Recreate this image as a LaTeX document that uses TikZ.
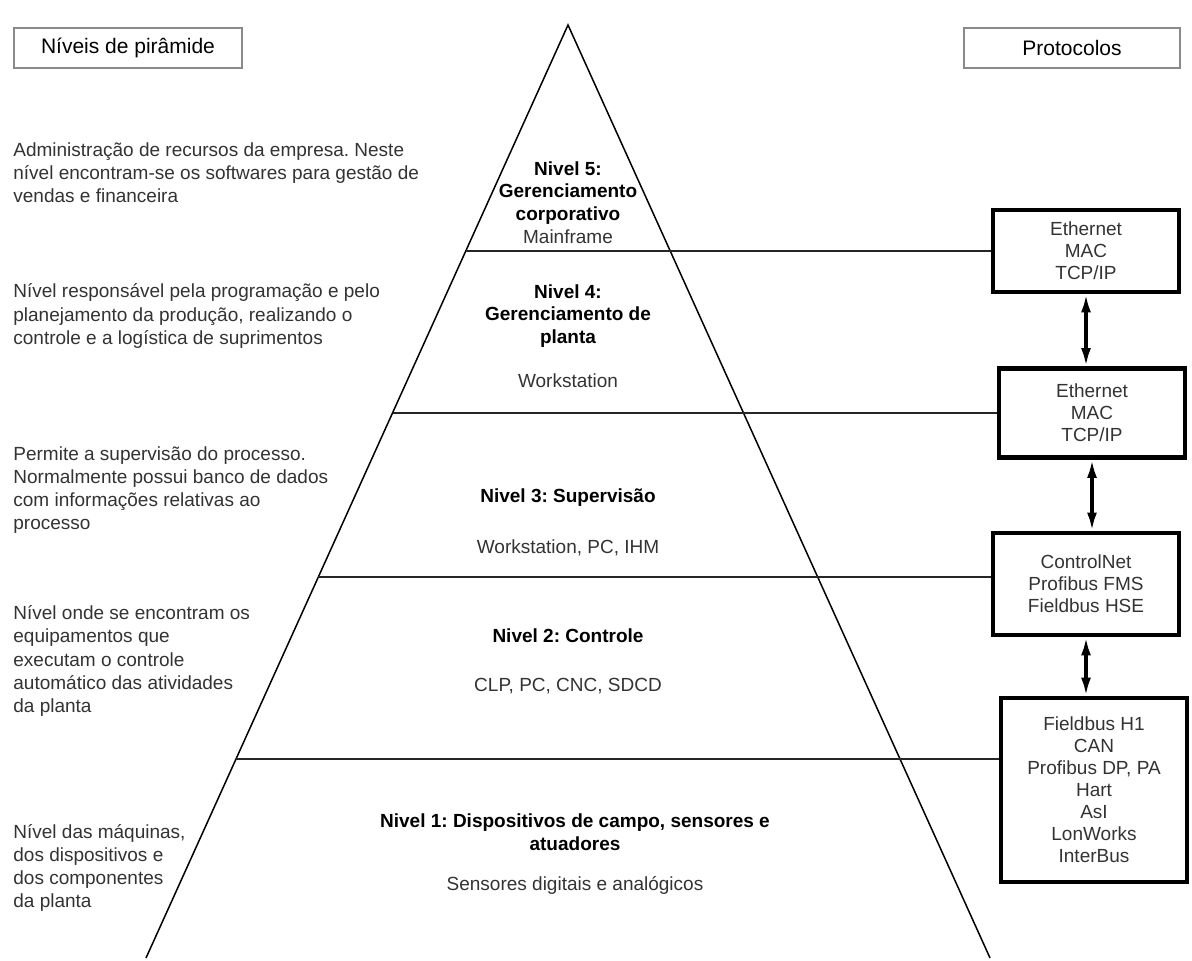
\documentclass[tikz,border=0pt]{standalone}
\usepackage{fontspec}
\setmainfont{Liberation Sans}
\usetikzlibrary{positioning, arrows.meta, calc}
\definecolor{txtgray}{HTML}{333333}
\definecolor{framegray}{HTML}{8A8A8A}
\frenchspacing

\tikzset{
  desc/.style={anchor=west, align=left, font=\fontsize{9.5}{11.6}\selectfont, text=txtgray, inner sep=0pt},
  lvl/.style={align=center, font=\fontsize{9.5}{11.4}\selectfont\bfseries, inner sep=0pt},
  dev/.style={align=center, font=\fontsize{9.5}{11.4}\selectfont, text=txtgray, inner sep=0pt},
  proto/.style={draw, line width=2.4pt, align=center, font=\fontsize{9.5}{11}\selectfont, text=txtgray, minimum width=93pt},
  header/.style={draw=framegray, line width=0.7pt, font=\fontsize{10.5}{12}\selectfont, minimum height=20pt},
  tier/.style={line width=0.7pt, draw=black!85},
  link/.style={line width=1.6pt, {Latex[length=9pt,width=5pt]}-{Latex[length=9pt,width=5pt]}},
}

\begin{document}
\begin{tikzpicture}[x=0.5pt, y=-0.5pt]
    \useasboundingbox[fill=white] (0,0) rectangle (1192,961);

    % headers
    \node[header, minimum width=114pt] (hlevels) at (128,48) {Níveis de pirâmide};
    \node[header, minimum width=108pt] (hproto) at (1072,48) {Protocolos};

    % pyramid
    \coordinate (apex) at (568,25);
    \coordinate (bl) at (146,958);
    \coordinate (br) at (990,958);
    \draw[line width=0.75pt] (bl) -- (apex) -- (br);
    \coordinate (e5) at ($(apex)!0.2422!(bl)$);
    \coordinate (e4) at ($(apex)!0.4159!(bl)$);
    \coordinate (e3) at ($(apex)!0.5916!(bl)$);
    \coordinate (e2) at ($(apex)!0.7867!(bl)$);

    % protocol boxes
    \node[proto, minimum height=41pt] (eth5) at (1086,251) {Ethernet\\MAC\\TCP/IP};
    \node[proto, minimum height=44.5pt] (eth4) at (1092,413) {Ethernet\\MAC\\TCP/IP};
    \node[proto, minimum height=51pt] (ctrl) at (1086,584) {ControlNet\\Profibus FMS\\Fieldbus HSE};
    \node[proto, minimum height=92pt] (field) at (1094,790) {Fieldbus H1\\CAN\\Profibus DP, PA\\Hart\\AsI\\LonWorks\\InterBus};

    % level boundaries
    \draw[tier] (e5) -- (e5 -| eth5.west);
    \draw[tier] (e4) -- (e4 -| eth4.west);
    \draw[tier] (e3) -- (e3 -| ctrl.west);
    \draw[tier] (e2) -- (e2 -| field.west);

    % links between protocols
    \draw[link] (eth5.south) -- (eth5.south |- eth4.north);
    \draw[link] (eth4.south) -- (eth4.south |- ctrl.north);
    \draw[link] (ctrl.south) -- (ctrl.south |- field.north);

    % pyramid labels
    \node[lvl] (lv5) at (568,193) {Nivel 5:\\Gerenciamento\\corporativo};
    \node[dev] (dv5) at (568,237) {Mainframe};
    \node[lvl] (lv4) at (568,316) {Nivel 4:\\Gerenciamento de\\planta};
    \node[dev] (dv4) at (568,381) {Workstation};
    \node[lvl] (lv3) at (568,498) {Nivel 3: Supervisão};
    \node[dev] (dv3) at (568,548) {Workstation, PC, IHM};
    \node[lvl] (lv2) at (568,636) {Nivel 2: Controle};
    \node[dev] (dv2) at (568,686) {CLP, PC, CNC, SDCD};
    \node[lvl] (lv1) at (575,832) {Nivel 1: Dispositivos de campo, sensores e\\atuadores};
    \node[dev] (dv1) at (575,885) {Sensores digitais e analógicos};

    % descriptions
    \node[desc] (d5) at (13,173) {Administração de recursos da empresa. Neste\\nível encontram-se os softwares para gestão de\\vendas e financeira};
    \node[desc] (d4) at (13,316) {Nível responsável pela programação e pelo\\planejamento da produção, realizando o\\controle e a logística de suprimentos};
    \node[desc] (d3) at (13,490) {Permite a supervisão do processo.\\Normalmente possui banco de dados\\com informações relativas ao\\processo};
    \node[desc] (d2) at (13,661) {Nível onde se encontram os\\equipamentos que\\executam o controle\\automático das atividades\\da planta};
    \node[desc] (d1) at (13,868) {Nível das máquinas,\\dos dispositivos e\\dos componentes\\da planta};
\end{tikzpicture}
\end{document}
